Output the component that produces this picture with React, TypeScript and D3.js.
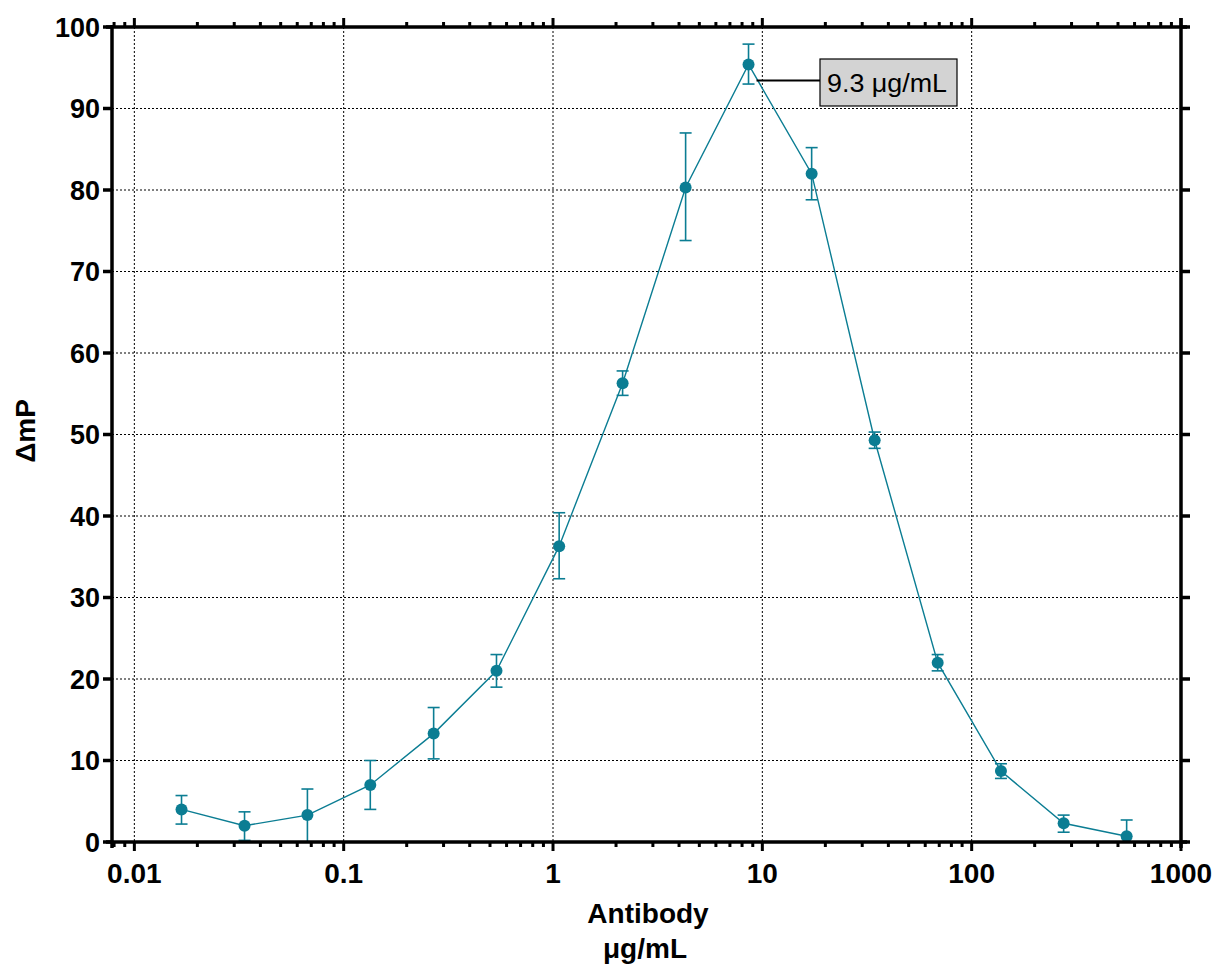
import React from "react";
import * as d3 from "d3";

const concentrations = [0.0168, 0.0336, 0.0671, 0.134, 0.269, 0.537, 1.07, 2.15, 4.3, 8.59, 17.2, 34.4, 68.8, 138, 275, 550];
const meanMP = [4.0, 2.0, 3.3, 7.0, 13.3, 21.0, 36.3, 56.3, 80.3, 95.4, 82.0, 49.3, 22.0, 8.7, 2.3, 0.7];
const lowerMP = [2.2, 0.2, 0.0, 4.0, 10.2, 19.0, 32.3, 54.8, 73.8, 93.0, 78.8, 48.3, 21.0, 7.8, 1.2, 0.0];
const upperMP = [5.7, 3.7, 6.5, 10.0, 16.5, 23.0, 40.4, 57.8, 87.0, 97.9, 85.2, 50.3, 23.0, 9.6, 3.3, 2.7];
const xMajorTicks = [0.01, 0.1, 1, 10, 100, 1000];
const xTickLabels = ["0.01", "0.1", "1", "10", "100", "1000"];
const yTicks = [0, 10, 20, 30, 40, 50, 60, 70, 80, 90, 100];
const annotationText = "9.3 \u03bcg/mL";
const peakIndex = 9;

const TEAL = "#0b7d93";
const FONT = "'Liberation Sans', Arial, Helvetica, sans-serif";

export default function App() {
  const x = d3.scaleLog().domain([0.00782, 1000]).range([112, 1181]);
  const y = d3.scaleLinear().domain([0, 100]).range([842, 27]);
  const [x0, x1] = x.range();
  const [yb, yt] = y.range();

  const minorTicks: number[] = [];
  [0.001, 0.01, 0.1, 1, 10, 100].forEach((dec) => {
    for (let k = 2; k <= 9; k++) {
      const v = dec * k;
      if (v >= 0.00782 && v < 1000 && !xMajorTicks.includes(v)) minorTicks.push(v);
    }
  });

  const line = d3
    .line<number>()
    .x((_, i) => x(concentrations[i]))
    .y((d) => y(d));

  const px = x(concentrations[peakIndex]);
  const py = y(meanMP[peakIndex]);
  const boxX = 820;
  const boxY = 59;
  const boxW = 137;
  const boxH = 47;

  return (
    <svg
      width={1218}
      height={970}
      style={{ position: "absolute", left: 0, top: 0, background: "#fff" }}
      fontFamily={FONT}
    >
      <rect x={0} y={0} width={1218} height={970} fill="#fff" />
      {/* gridlines */}
      {yTicks.filter((t) => t > 0 && t < 100).map((t) => (
        <line key={"gy" + t} x1={x0} x2={x1} y1={y(t)} y2={y(t)} stroke="#000" strokeWidth={1} strokeDasharray="2,2" />
      ))}
      {xMajorTicks.filter((t) => t < 1000).map((t) => (
        <line key={"gx" + t} x1={x(t)} x2={x(t)} y1={yt} y2={yb} stroke="#000" strokeWidth={1} strokeDasharray="2,2" />
      ))}

      {/* data line */}
      <path d={line(meanMP) || ""} fill="none" stroke={TEAL} strokeWidth={1.4} />
      {/* error bars */}
      {concentrations.map((c, i) => {
        const cx = x(c);
        return (
          <g key={"e" + i} stroke={TEAL} strokeWidth={1.6}>
            <line x1={cx} x2={cx} y1={y(lowerMP[i])} y2={y(upperMP[i])} />
            <line x1={cx - 6} x2={cx + 6} y1={y(upperMP[i])} y2={y(upperMP[i])} />
            {lowerMP[i] > 0 && <line x1={cx - 6} x2={cx + 6} y1={y(lowerMP[i])} y2={y(lowerMP[i])} />}
          </g>
        );
      })}
      {concentrations.map((c, i) => (
        <circle key={"p" + i} cx={x(c)} cy={y(meanMP[i])} r={6} fill={TEAL} />
      ))}

      {/* annotation */}
      <line x1={px + 8} x2={boxX} y1={py + 16} y2={py + 16} stroke="#000" strokeWidth={2} />
      <rect x={boxX} y={boxY} width={boxW} height={boxH} fill="#d3d3d3" stroke="#000" strokeWidth={1.2} />
      <text x={boxX + 7} y={boxY + 33} fontSize={26} fill="#000" textLength={120} lengthAdjust="spacingAndGlyphs">
        {annotationText}
      </text>

      {/* axes frame */}
      <line x1={x0 - 6} x2={x1 + 6} y1={yb} y2={yb} stroke="#000" strokeWidth={3.5} />
      <line x1={x0 - 6} x2={x1 + 6} y1={yt} y2={yt} stroke="#000" strokeWidth={3.5} />
      <line x1={x0} x2={x0} y1={yt - 2} y2={yb + 6} stroke="#000" strokeWidth={3.5} />
      <line x1={x1} x2={x1} y1={yt - 9} y2={yb + 6} stroke="#000" strokeWidth={3.5} />

      {/* y ticks left and right */}
      {yTicks.map((t) => (
        <g key={"yt" + t}>
          <line x1={x0 - 9} x2={x0} y1={y(t)} y2={y(t)} stroke="#000" strokeWidth={3.5} />
          <line x1={x1} x2={x1 + 9} y1={y(t)} y2={y(t)} stroke="#000" strokeWidth={3.5} />
          <text x={x0 - 12} y={y(t) + 9.7} textAnchor="end" fontSize={27} fontWeight="bold" fill="#000">
            {t}
          </text>
        </g>
      ))}

      {/* x major ticks bottom and top */}
      {xMajorTicks.map((t, i) => (
        <g key={"xt" + t}>
          <line x1={x(t)} x2={x(t)} y1={yb} y2={yb + 9} stroke="#000" strokeWidth={3} />
          <line x1={x(t)} x2={x(t)} y1={yt - 9} y2={yt} stroke="#000" strokeWidth={3} />
          <text x={x(t)} y={882.5} textAnchor="middle" fontSize={28} fontWeight="bold" fill="#000">
            {xTickLabels[i]}
          </text>
        </g>
      ))}
      {minorTicks.map((t) => (
        <g key={"mt" + t}>
          <line x1={x(t)} x2={x(t)} y1={yb} y2={yb + 5} stroke="#000" strokeWidth={3} />
          <line x1={x(t)} x2={x(t)} y1={yt - 5} y2={yt} stroke="#000" strokeWidth={3} />
        </g>
      ))}

      {/* axis titles */}
      <text x={648} y={923} textAnchor="middle" fontSize={28} fontWeight="bold" fill="#000">
        Antibody
      </text>
      <text x={645} y={958} textAnchor="middle" fontSize={28} fontWeight="bold" fill="#000">
        {"\u03bcg/mL"}
      </text>
      <text
        transform="translate(35,431) rotate(-90)"
        textAnchor="middle"
        fontSize={28}
        fontWeight="bold"
        fill="#000"
      >
        {"\u0394mP"}
      </text>
    </svg>
  );
}
